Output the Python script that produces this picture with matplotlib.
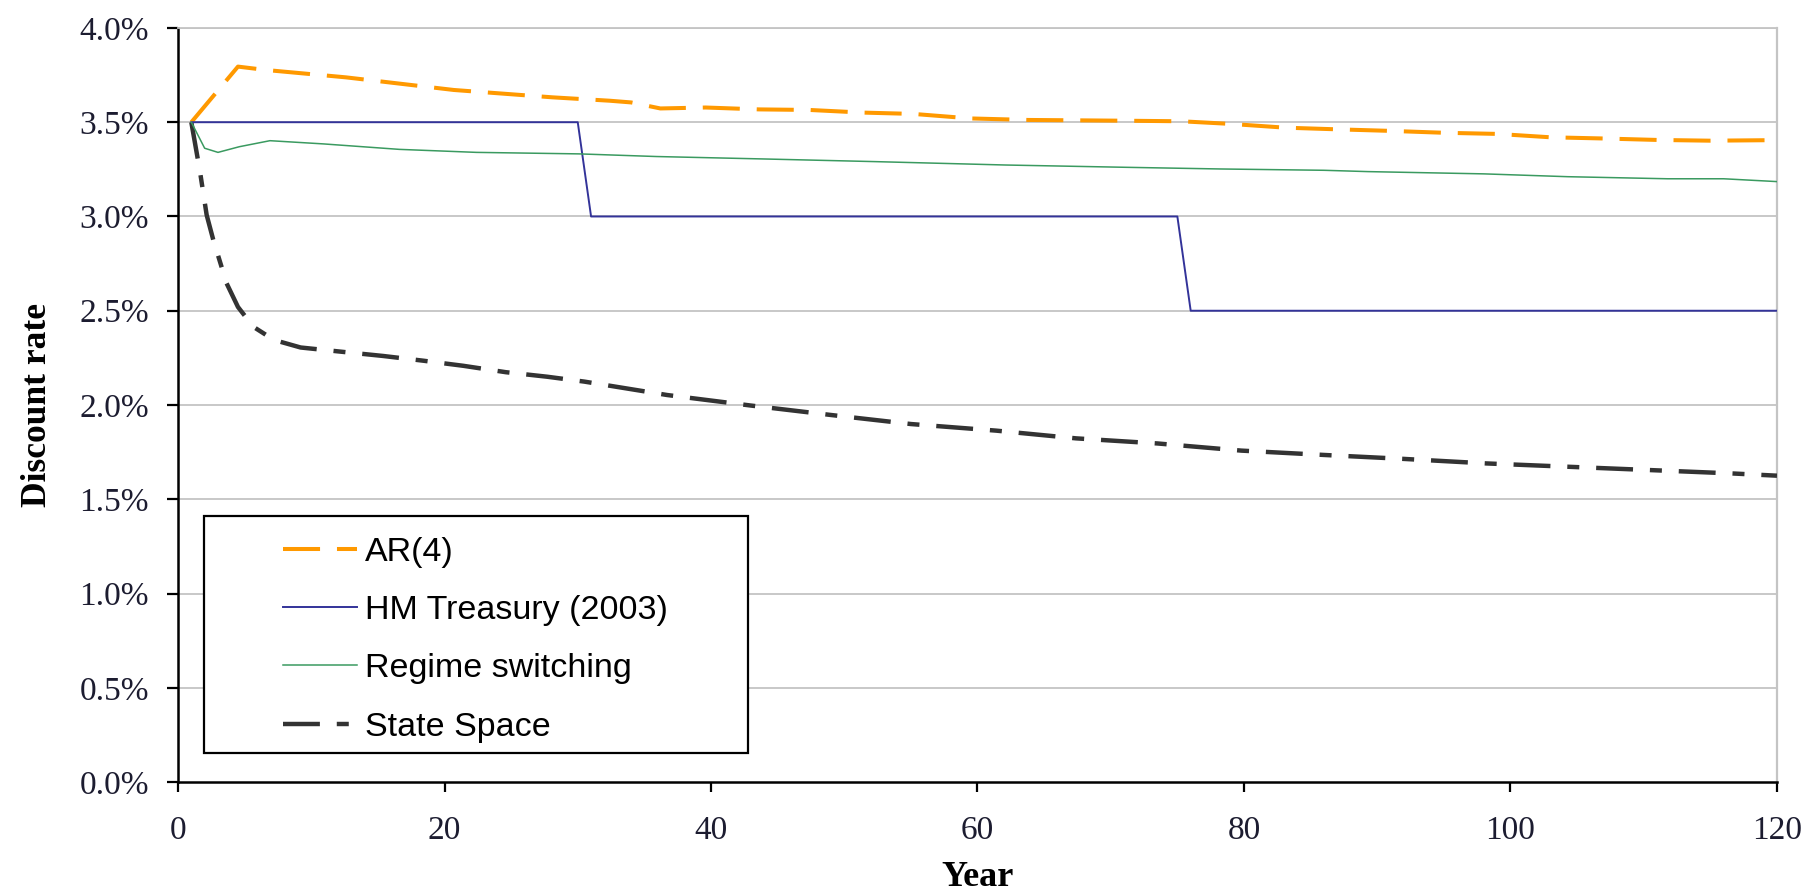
import matplotlib
matplotlib.use("Agg")
import matplotlib.pyplot as plt
from matplotlib.patches import Rectangle

# ---- data (discount rate, %) ----
ar4_years = [1, 4.5, 6.6, 12.6, 20.7, 28.1, 32.4, 34, 36.2, 39.6, 43.6, 47.4, 51.4, 55.2,
             59.5, 63.8, 71, 75.3, 79, 83.1, 87.1, 91, 95, 99, 103, 106.8, 111, 115, 120]
ar4_rate = [3.5, 3.795, 3.777, 3.738, 3.671, 3.632, 3.614, 3.605, 3.573, 3.578, 3.568, 3.565,
            3.551, 3.544, 3.52, 3.512, 3.508, 3.505, 3.491, 3.471, 3.462, 3.454, 3.444, 3.438,
            3.42, 3.414, 3.406, 3.402, 3.405]

hmt_years = [1, 30, 31, 75, 76, 120]
hmt_rate = [3.5, 3.5, 3.0, 3.0, 2.5, 2.5]

rs_years = [1, 2, 3, 4.6, 6.9, 10.9, 16.6, 22.4, 30.1, 35.9, 44, 52.3, 62.1, 71, 78.2, 86,
            89.3, 98, 104.3, 111.8, 116, 120]
rs_rate = [3.5, 3.362, 3.34, 3.37, 3.402, 3.385, 3.356, 3.34, 3.332, 3.318, 3.305, 3.291,
           3.273, 3.261, 3.252, 3.245, 3.238, 3.226, 3.211, 3.2, 3.2, 3.185]

ss_years = [1, 1.65, 2.15, 2.65, 3.65, 4.5, 5.65, 7.2, 9.2, 12.2, 15.4, 18.4, 21.4, 24.6,
            27.7, 30.5, 36.7, 43, 49, 55, 61.4, 67.4, 73.5, 79.8, 86, 92, 98.2, 104.1,
            110.4, 116.6, 120]
ss_rate = [3.5, 3.238, 3.008, 2.875, 2.645, 2.52, 2.415, 2.345, 2.305, 2.283, 2.26, 2.235,
           2.208, 2.174, 2.15, 2.124, 2.053, 1.997, 1.947, 1.899, 1.864, 1.823, 1.796,
           1.758, 1.735, 1.714, 1.69, 1.673, 1.655, 1.637, 1.625]

series_labels = ["AR(4)", "HM Treasury (2003)", "Regime switching", "State Space"]
x_ticks = [0, 20, 40, 60, 80, 100, 120]
y_ticks = [0.0, 0.5, 1.0, 1.5, 2.0, 2.5, 3.0, 3.5, 4.0]

# ---- figure ----
fig = plt.figure(figsize=(18.09, 8.96), dpi=100)
ax = fig.add_axes([0.0984, 0.1272, 0.8839, 0.8416])

serif = "Liberation Serif"
sans = "Liberation Sans"

for v in y_ticks[1:]:
    ax.axhline(v, color="#c4c4c4", lw=1.3, zorder=1)

l1, = ax.plot(ar4_years, ar4_rate, color="#ff9900", lw=2.9, dashes=(9.2, 4.2),
              label=series_labels[0], zorder=3, dash_capstyle="butt")
l2, = ax.plot(hmt_years, hmt_rate, color="#333399", lw=1.4, label=series_labels[1], zorder=4)
l3, = ax.plot(rs_years, rs_rate, color="#3a9a60", lw=1.1, label=series_labels[2], zorder=4)
l4, = ax.plot(ss_years, ss_rate, color="#333333", lw=3.2, dashes=(8.3, 3.8, 2.7, 3.8),
              label=series_labels[3], zorder=3, dash_capstyle="butt")

ax.set_xlim(0, 120)
ax.set_ylim(0, 4.0)
ax.set_xticks(x_ticks)
ax.set_xticklabels([str(t) for t in x_ticks])
ax.set_yticks(y_ticks)
ax.set_yticklabels([f"{v:.1f}%" for v in y_ticks])

for lab in ax.get_xticklabels() + ax.get_yticklabels():
    lab.set_fontfamily(serif)
    lab.set_fontsize(24)
    lab.set_color("#1c1c30")

ax.tick_params(axis="y", direction="out", length=8, width=1.6, pad=13)
ax.tick_params(axis="x", direction="out", length=7, width=1.6, pad=17)

ax.spines["left"].set_color("black")
ax.spines["left"].set_linewidth(1.8)
ax.spines["bottom"].set_color("black")
ax.spines["bottom"].set_linewidth(1.8)
ax.spines["right"].set_color("#c4c4c4")
ax.spines["right"].set_linewidth(1.6)
ax.spines["top"].set_color("#c4c4c4")
ax.spines["top"].set_linewidth(1.3)

ax.set_xlabel("Year", fontfamily=serif, fontsize=26, fontweight="bold", labelpad=11)
ax.set_ylabel("Discount rate", fontfamily=serif, fontsize=25.5, fontweight="bold", labelpad=18)

# legend frame
ax.add_patch(Rectangle((0.0163, 0.0385), 0.3404, 0.3143, transform=ax.transAxes,
                       facecolor="white", edgecolor="black", lw=1.6, zorder=5))
leg = ax.legend(handles=[l1, l2, l3, l4], loc="upper left",
                bbox_to_anchor=(0.0657, 0.3250), frameon=False,
                prop={"family": sans, "size": 24.5}, handlelength=2.18,
                handletextpad=0.24, labelspacing=0.8, borderpad=0, borderaxespad=0)
leg.set_zorder(6)

fig.savefig("out.png", dpi=100)
